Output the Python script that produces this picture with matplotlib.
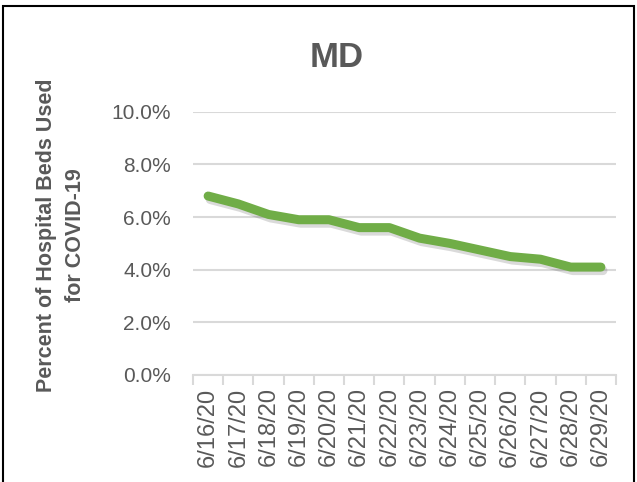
import matplotlib.pyplot as plt
import matplotlib.patheffects as pe
from matplotlib.patches import Rectangle
from matplotlib.ticker import PercentFormatter
import numpy as np

# === DATA ===
dates = ["6/16/20", "6/17/20", "6/18/20", "6/19/20", "6/20/20", "6/21/20", "6/22/20",
         "6/23/20", "6/24/20", "6/25/20", "6/26/20", "6/27/20", "6/28/20", "6/29/20"]
pct_beds = [6.8, 6.5, 6.1, 5.9, 5.9, 5.6, 5.6, 5.2, 5.0, 4.75, 4.5, 4.4, 4.1, 4.1]
y_ticks = [0, 2, 4, 6, 8, 10]

TEXT = "#595959"
GRID = "#D9D9D9"
GREEN = "#70AD47"

plt.rcParams["font.family"] = ["Liberation Sans", "DejaVu Sans"]

fig = plt.figure(figsize=(6.37, 4.82), dpi=100)
ax = fig.add_axes([0.303, 0.222, 0.664, 0.546])

x = np.arange(len(dates))
ax.plot(x, pct_beds, color=GREEN, linewidth=6.5, solid_capstyle="round",
        solid_joinstyle="round",
        path_effects=[pe.SimpleLineShadow(offset=(1.5, -2.5), alpha=0.18, shadow_color="#333333"),
                      pe.Normal()])

# === Axis formatting ===
ax.set_ylim(0, 10)
ax.set_yticks(y_ticks)
ax.yaxis.set_major_formatter(PercentFormatter(decimals=1))
ax.set_xlim(-0.5, len(dates) - 0.5)
ax.set_xticks(x)
ax.set_xticklabels(dates, rotation=90, fontsize=17, color=TEXT)
ax.set_xticks(np.arange(-0.5, len(dates)), minor=True)
ax.tick_params(axis="x", which="major", length=0, pad=9)
ax.tick_params(axis="x", which="minor", length=7, width=1.5, color=GRID)
ax.tick_params(axis="y", length=0, labelsize=15, labelcolor=TEXT, pad=16)

ax.grid(axis="y", color=GRID, linewidth=1.5)
ax.set_axisbelow(True)
for s in ["top", "right", "left"]:
    ax.spines[s].set_visible(False)
ax.spines["bottom"].set_color(GRID)
ax.spines["bottom"].set_linewidth(1.5)

fig.text(61.5 / 637, 1 - 235 / 482, "Percent of Hospital Beds Used\nfor COVID-19",
         rotation=90, ha="center", va="center", multialignment="center",
         fontsize=15.5, fontweight="bold", color=TEXT, linespacing=1.5)
fig.text(0.528, 0.88, "MD", ha="center", va="center", fontsize=25, fontweight="bold", color=TEXT)

# outer chart border
fig.patches.append(Rectangle((3 / 637, -0.01), 631 / 637, 1 - 6 / 482 + 0.01,
                             transform=fig.transFigure, fill=False, edgecolor="black",
                             linewidth=1.5))

plt.savefig("out.png", dpi=100)
plt.close()
